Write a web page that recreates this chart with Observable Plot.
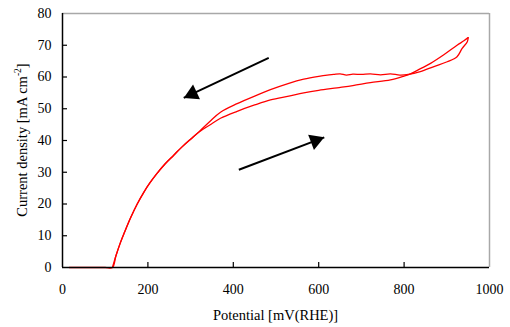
<!DOCTYPE html>
<html>
<head>
<meta charset="utf-8">
<script src="https://cdn.jsdelivr.net/npm/d3@7"></script>
<script src="https://cdn.jsdelivr.net/npm/@observablehq/plot@0.6"></script>
<style>
  body { margin: 0; background: #fff; }
  #chart { width: 510px; height: 327px; }
</style>
</head>
<body>
<div id="chart"></div>
<script>
// ---- data ----
const xTicks = [0, 200, 400, 600, 800, 1000];
const yTicks = [0, 10, 20, 30, 40, 50, 60, 70, 80];

// forward (anodic) scan: lower branch
const forwardPotential = [16, 60, 100, 117, 125, 135, 145, 160, 175, 190, 205, 220, 240, 260, 280, 300, 320, 345, 370, 409, 450, 487, 530, 565, 600, 643, 680, 721, 768, 800, 815, 831, 862, 893, 924, 940, 950];
const forwardCurrent   = [0, 0, 0, 0, 3.6, 7.6, 11.0, 15.8, 20.0, 23.6, 26.7, 29.4, 32.6, 35.3, 38.0, 40.4, 42.7, 44.9, 47.0, 49.2, 51.2, 52.8, 54.0, 55.0, 55.8, 56.6, 57.3, 58.2, 59.1, 60.3, 61.0, 62.1, 64.3, 67.0, 70.0, 71.4, 72.4];

// backward (cathodic) scan: upper branch
const backwardPotential = [950, 948, 936, 924, 901, 870, 838, 810, 790, 768, 745, 721, 700, 680, 665, 650, 635, 620, 600, 565, 530, 487, 450, 409, 370, 345, 320, 300, 280, 260, 240, 220, 205, 190, 175, 160, 145, 135, 125, 117];
const backwardCurrent   = [72.4, 71.1, 69.0, 66.4, 64.8, 63.3, 61.7, 60.8, 60.6, 61.0, 60.7, 61.0, 60.8, 60.9, 60.6, 61.0, 60.8, 60.6, 60.2, 59.3, 58.0, 56.0, 54.0, 51.6, 48.9, 46.0, 42.8, 40.4, 38.0, 35.3, 32.6, 29.4, 26.7, 23.6, 20.0, 15.8, 11.0, 7.6, 3.6, 0];

// scan-direction arrows (start -> tip)
const arrowStartPotential = [483, 413];
const arrowStartCurrent   = [66.0, 30.8];
const arrowTipPotential   = [284, 613];
const arrowTipCurrent     = [53.4, 41.0];

const xLabel = "Potential [mV(RHE)]";
const yLabelMain = "Current density [mA cm";
const yLabelSup = "-2";
const yLabelEnd = "]";

// ---- layout ----
const W = 510, H = 327;
const mL = 62, mR = 21, mT = 13, mB = 60;
const kx = (W - mL - mR) / 1000;   // px per mV
const ky = (H - mT - mB) / 80;     // px per mA cm^-2
const FONT = "'Liberation Serif', 'Times New Roman', serif";

const curve = [];
forwardPotential.forEach((v, i) => curve.push({scan: "forward", v, j: forwardCurrent[i]}));
backwardPotential.forEach((v, i) => curve.push({scan: "backward", v, j: backwardCurrent[i]}));

const arrows = arrowStartPotential.map((v, i) => {
  const x1 = v, y1 = arrowStartCurrent[i], x2 = arrowTipPotential[i], y2 = arrowTipCurrent[i];
  const px = (x2 - x1) * kx, py = -(y2 - y1) * ky;
  const len = Math.hypot(px, py);
  return {x1, y1, x2, y2, ux: px / len, uy: py / len};
});
const headHalf = 4.7;              // d3 triangle "y" extent
const headR = Math.sqrt(headHalf * headHalf * 3 * Math.sqrt(3) / Math.PI);

const marks = [
  // frame (grey top/right)
  Plot.ruleY([80], {stroke: "#a8a8a8", strokeWidth: 1.5}),
  Plot.ruleX([1000], {stroke: "#a8a8a8", strokeWidth: 1.5}),
  // inward ticks
  Plot.ruleY(yTicks.slice(1, -1), {y: d => d, x1: 0, x2: 5 / kx, stroke: "#000", strokeWidth: 1.2}),
  Plot.ruleX(xTicks.slice(1, -1), {x: d => d, y1: 0, y2: 5 / ky, stroke: "#000", strokeWidth: 1.2}),
  // data
  Plot.line(curve, {x: "v", y: "j", z: "scan", stroke: "#ff0000", strokeWidth: 1.3, curve: "catmull-rom"}),
  // axes lines
  Plot.ruleX([0], {stroke: "#000", strokeWidth: 1.5}),
  Plot.ruleY([0], {stroke: "#000", strokeWidth: 1.5}),
  Plot.axisX(xTicks, {tickSize: 0, tickPadding: 17, fontSize: 14, label: null, tickFormat: d => String(d)}),
  Plot.axisY(yTicks, {tickSize: 0, tickPadding: 11, fontSize: 14, label: null, tickFormat: d => String(d)})
];

arrows.forEach(a => {
  marks.push(Plot.link([a], {x1: "x1", y1: "y1", x2: "x2", y2: "y2", stroke: "#000", strokeWidth: 2}));
  marks.push(Plot.dot([a], {
    x: "x2", y: "y2", symbol: "triangle", r: headR, fill: "#000", stroke: "none",
    rotate: Math.atan2(a.ux, -a.uy) * 180 / Math.PI,
    dx: -2 * headHalf * a.ux, dy: -2 * headHalf * a.uy
  }));
});

const svg = Plot.plot({
  width: W, height: H,
  marginLeft: mL, marginRight: mR, marginTop: mT, marginBottom: mB,
  style: {fontFamily: FONT, fontSize: "14px", color: "#000", background: "#fff"},
  x: {domain: [0, 1000]},
  y: {domain: [0, 80]},
  marks
});

const s = d3.select(svg);
s.append("text")
  .attr("x", mL + (W - mL - mR) / 2)
  .attr("y", 320)
  .attr("text-anchor", "middle")
  .attr("font-family", FONT)
  .attr("font-size", 14.5)
  .attr("fill", "#000")
  .text(xLabel);

const yl = s.append("text")
  .attr("transform", `translate(26.5, ${mT + (H - mT - mB) / 2}) rotate(-90)`)
  .attr("text-anchor", "middle")
  .attr("font-family", FONT)
  .attr("font-size", 14.5)
  .attr("fill", "#000");
yl.append("tspan").text(yLabelMain);
yl.append("tspan").attr("font-size", 9.5).attr("dy", -6).text(yLabelSup);
yl.append("tspan").attr("dy", 6).text(yLabelEnd);

document.getElementById("chart").appendChild(svg);
</script>
</body>
</html>
